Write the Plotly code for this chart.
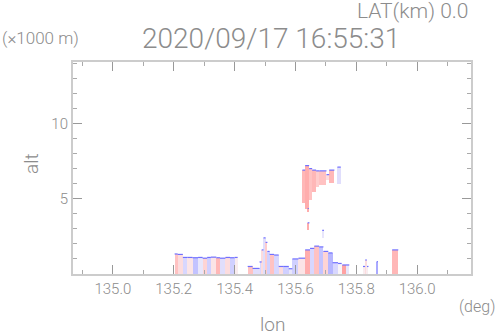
import plotly.graph_objects as go

# ---- data ----
seg_lon0 = [135.203, 135.213, 135.230, 135.245, 135.262, 135.280, 135.295, 135.310, 135.322, 135.340,
            135.352, 135.370, 135.385, 135.400,
            135.443, 135.459, 135.482, 135.489, 135.495, 135.502, 135.508, 135.515, 135.530, 135.545,
            135.560, 135.578, 135.590, 135.610, 135.632, 135.648, 135.662, 135.678, 135.692, 135.708,
            135.722, 135.740, 135.754, 135.766, 135.822, 135.829, 135.835, 135.867, 135.918,
            135.623, 135.632, 135.645, 135.655, 135.668, 135.679, 135.702, 135.711, 135.738,
            135.640, 135.688, 135.640]
seg_lon1 = [135.213, 135.230, 135.245, 135.262, 135.280, 135.295, 135.310, 135.322, 135.340, 135.352,
            135.370, 135.385, 135.400, 135.410,
            135.459, 135.482, 135.489, 135.495, 135.502, 135.508, 135.515, 135.530, 135.545, 135.560,
            135.578, 135.590, 135.610, 135.632, 135.648, 135.662, 135.678, 135.692, 135.708, 135.722,
            135.740, 135.752, 135.766, 135.777, 135.829, 135.835, 135.840, 135.871, 135.938,
            135.632, 135.645, 135.655, 135.668, 135.679, 135.702, 135.711, 135.728, 135.749,
            135.646, 135.694, 135.644]
seg_bottom = [0] * 43 + [4.7, 4.35, 4.9, 5.45, 5.8, 5.9, 6.25, 6.05, 6.0, 2.9, 2.4, 4.1]
seg_top = [1.33, 1.30, 1.10, 1.10, 1.08, 1.10, 1.05, 1.10, 1.12, 1.08,
           1.05, 1.10, 1.08, 1.10,
           0.50, 0.37, 0.80, 1.60, 2.40, 2.10, 1.50, 1.30, 1.26, 0.50,
           0.50, 0.35, 1.00, 1.05, 1.60, 1.70, 1.85, 1.80, 1.50, 1.40,
           0.75, 0.70, 0.60, 0.60, 0.50, 0.93, 0.50, 0.82, 1.60,
           6.9, 7.2, 7.0, 6.9, 6.85, 6.85, 6.6, 6.9, 7.1,
           3.4, 2.9, 4.35]
seg_val = [0.6, 0.3, -0.4, 0.2, -0.6, -0.2, 0.4, -0.5, 0.2, 0.7,
           -0.3, 0.3, -0.5, 0.1,
           0.6, -0.3, -0.4, 0.3, -0.3, 0.5, -0.5, 0.6, -0.4, 0.3,
           -0.5, -0.2, -0.5, 0.2, 0.8, -0.4, 0.6, -0.6, 0.4, -0.7,
           -0.4, 0.0, 0.9, -0.2, 0.1, 0.3, 0.1, -0.8, 0.7,
           0.7, 0.8, 0.6, 0.7, 0.5, 0.6, 0.3, 0.7, -0.3,
           0.8, -0.2, 0.8]

x_tickvals = [135.0, 135.2, 135.4, 135.6, 135.8, 136.0]
x_ticktext = ["135.0", "135.2", "135.4", "135.6", "135.8", "136.0"]
y_tickvals = [5, 10]
y_ticktext = ["5", "10"]

title_text = "2020/09/17 16:55:31"
lat_text = "LAT(km) 0.0"

# ---- figure ----
centers = [(a + b) / 2 for a, b in zip(seg_lon0, seg_lon1)]
widths = [b - a for a, b in zip(seg_lon0, seg_lon1)]
heights = [t - b for t, b in zip(seg_top, seg_bottom)]

colorscale = [[0.0, "#9090ff"], [0.25, "#d0d0ff"], [0.5, "#f8f4f8"],
              [0.75, "#ffcccc"], [1.0, "#ff9898"]]

fig = go.Figure()
fig.add_trace(go.Bar(
    x=centers, y=heights, base=seg_bottom, width=widths,
    marker=dict(color=seg_val, colorscale=colorscale, cmin=-1, cmax=1, line_width=0),
    hoverinfo="skip", showlegend=False,
))

ox, oy = [], []
for a, b, t in zip(seg_lon0, seg_lon1, seg_top):
    ox += [a, b, None]
    oy += [t, t, None]
fig.add_trace(go.Scatter(x=ox, y=oy, mode="lines",
                         line=dict(color="#7070ff", width=1.2),
                         hoverinfo="skip", showlegend=False))

grey = "#8c8c8c"
fam = "Roboto, Liberation Sans, Arial, sans-serif"

fig.update_layout(
    width=498, height=336,
    margin=dict(l=73, r=27, t=62, b=62),
    paper_bgcolor="white", plot_bgcolor="white",
    barmode="overlay", bargap=0,
    font=dict(family=fam, size=14, color=grey, weight=300),
    showlegend=False,
)
fig.update_xaxes(
    range=[134.869, 136.177], showgrid=False, zeroline=False,
    showline=True, linecolor="#cccccc", linewidth=2, mirror="ticks",
    ticks="inside", ticklen=9, tickcolor="#999999", tickwidth=1,
    tickvals=x_tickvals, ticktext=x_ticktext,
    tickfont=dict(family=fam, size=15, color=grey, weight=300),
    minor=dict(ticks="inside", ticklen=4, dtick=0.1, tick0=134.9, tickcolor="#aaaaaa"),
)
fig.update_yaxes(
    range=[0, 14.08], showgrid=False, zeroline=False,
    showline=True, linecolor="#cccccc", linewidth=2, mirror="ticks",
    ticks="inside", ticklen=9, tickcolor="#999999", tickwidth=1,
    tickvals=y_tickvals, ticktext=y_ticktext,
    tickfont=dict(family=fam, size=15, color=grey, weight=300),
    minor=dict(ticks="inside", ticklen=4, dtick=1, tick0=0, tickcolor="#aaaaaa"),
)

def px(x):
    return (x - 73) / 398

def py(y):
    return (274 - y) / 212

anns = [
    dict(text=title_text, x=px(271), y=py(38), xanchor="center", yanchor="middle", size=28),
    dict(text=lat_text, x=px(471), y=py(11), xanchor="right", yanchor="middle", size=21),
    dict(text="(×1000 m)", x=px(0), y=py(38), xanchor="left", yanchor="middle", size=17),
    dict(text="(deg)", x=px(497), y=py(306), xanchor="right", yanchor="middle", size=16),
    dict(text="lon", x=px(272), y=py(324), xanchor="center", yanchor="middle", size=19),
]
for a in anns:
    fig.add_annotation(text=a["text"], x=a["x"], y=a["y"], xref="paper", yref="paper",
                       xanchor=a["xanchor"], yanchor=a["yanchor"], showarrow=False,
                       font=dict(family=fam, color=grey, size=a["size"], weight=300))
fig.add_annotation(text="alt", x=px(31), y=py(164), xref="paper", yref="paper",
                   textangle=-90, xanchor="center", yanchor="middle", showarrow=False,
                   font=dict(family=fam, color=grey, size=19, weight=300))

fig.write_html("out.html", config={"displayModeBar": False},
               post_script="document.body.style.margin='0';document.body.style.padding='0';")
